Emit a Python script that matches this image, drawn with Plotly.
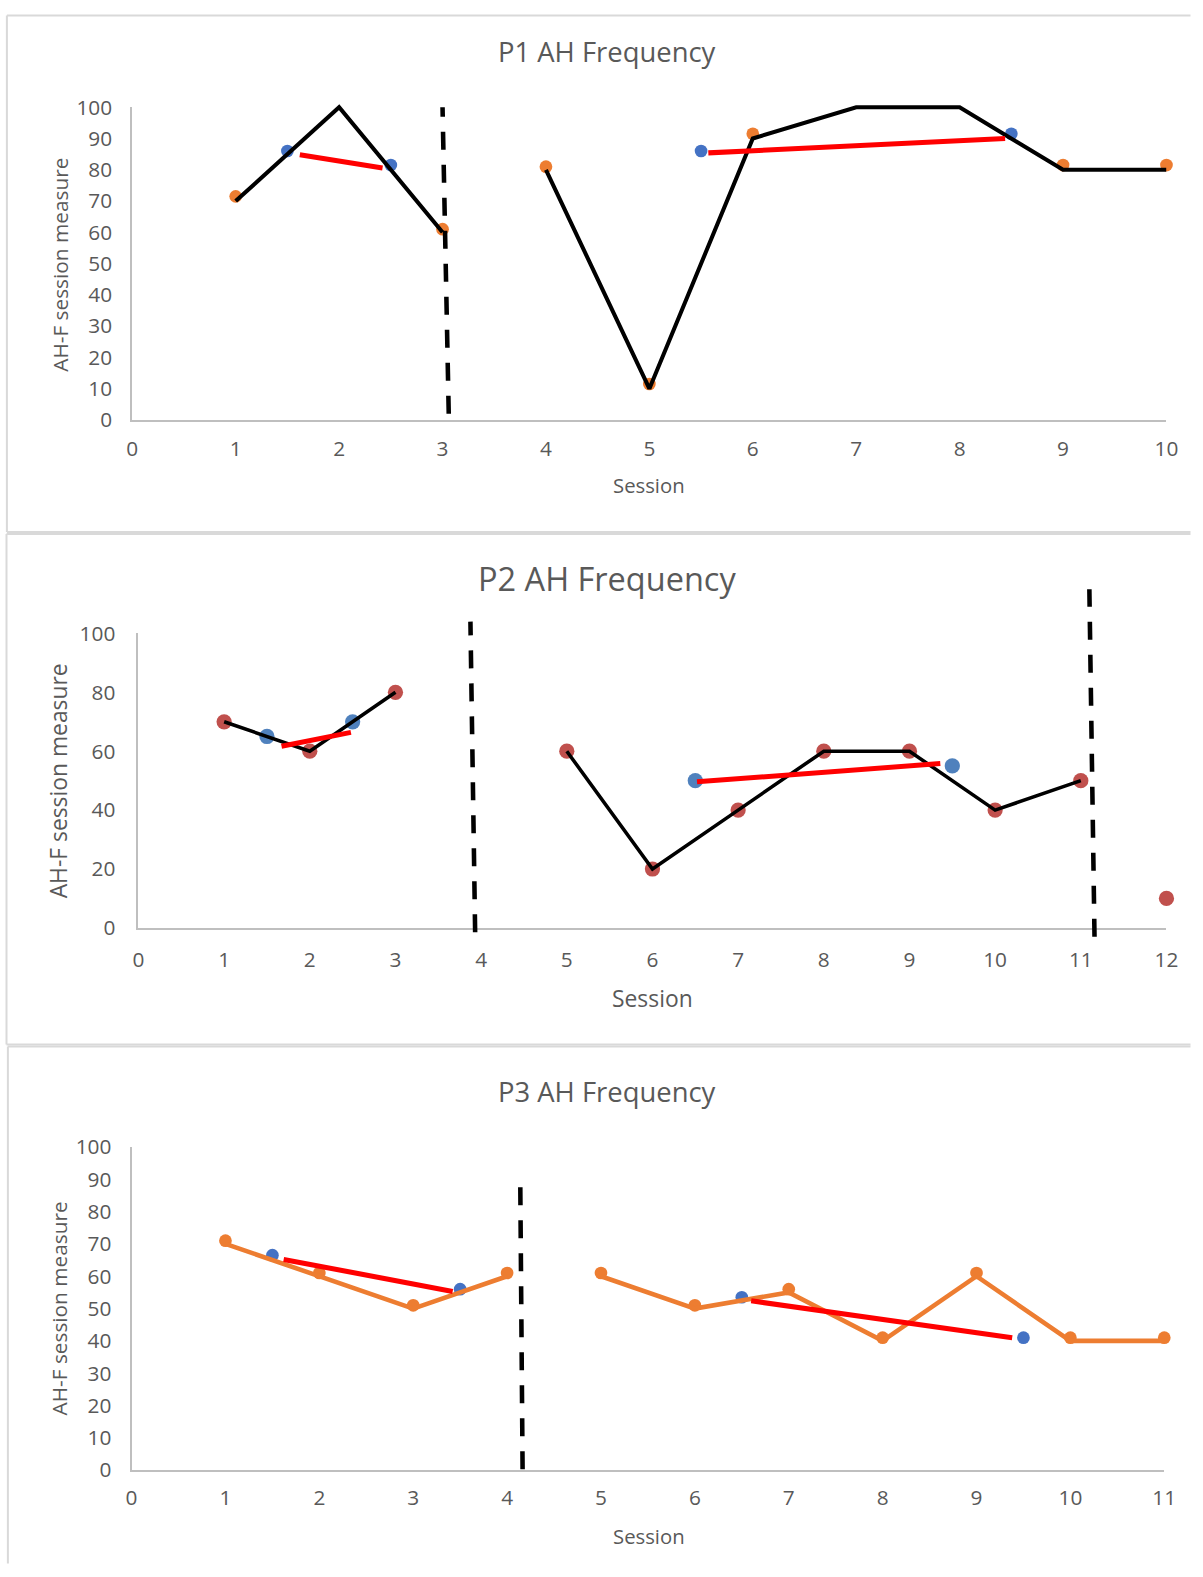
import plotly.graph_objects as go

# ---------------- data ----------------
# Panel 1 (P1)
p1_sessions = [1, 2, 3, 4, 5, 6, 7, 8, 9, 10]
p1_points = [71.5, 101.5, 61, 81, 11.5, 91.5, 101.5, 101.5, 81.5, 81.5]
p1_line_a_x = [1, 2, 3]
p1_line_a_y = [70, 100, 60]
p1_line_b_x = [4, 5, 6, 7, 8, 9, 10]
p1_line_b_y = [80, 10, 90, 100, 100, 80, 80]
p1_mid_x = [1.5, 2.5, 5.5, 8.5]
p1_mid_y = [86, 81.5, 86, 91.5]
p1_trend_a_x = [1.62, 2.42]
p1_trend_a_y = [84.8, 80.6]
p1_trend_b_x = [5.57, 8.44]
p1_trend_b_y = [85.4, 90]
p1_phase_x = [3.06, 3.0]
p1_phase_y = [2, 100]

# Panel 2 (P2)
p2_sessions = [1, 2, 3, 5, 6, 7, 8, 9, 10, 11, 12]
p2_points = [70, 60, 80, 60, 20, 40, 60, 60, 40, 50, 10]
p2_line_a_x = [1, 1.5, 2, 2.5, 3]
p2_line_a_y = [70, 65, 60, 70, 80]
p2_line_b_x = [5, 6, 7, 8, 9, 10, 11]
p2_line_b_y = [60, 20, 40, 60, 60, 40, 50]
p2_mid_x = [1.5, 2.5, 6.5, 9.5]
p2_mid_y = [65, 70, 50, 55]
p2_trend_a_x = [1.67, 2.48]
p2_trend_a_y = [61.7, 66.4]
p2_trend_b_x = [6.52, 9.36]
p2_trend_b_y = [49.6, 55.8]
p2_phase1_x = [3.93, 3.875]
p2_phase1_y = [-1.5, 104]
p2_phase2_x = [11.16, 11.10]
p2_phase2_y = [-3, 115]

# Panel 3 (P3)
p3_sessions = [1, 2, 3, 4, 5, 6, 7, 8, 9, 10, 11]
p3_points = [71, 61, 51, 61, 61, 51, 56, 41, 61, 41, 41]
p3_line_a_x = [1, 2, 3, 4]
p3_line_a_y = [70, 60, 50, 60]
p3_line_b_x = [5, 6, 7, 8, 9, 10, 11]
p3_line_b_y = [60, 50, 55, 40, 60, 40, 40]
p3_mid_x = [1.5, 3.5, 6.5, 9.5]
p3_mid_y = [66.5, 56, 53.5, 41]
p3_trend_a_x = [1.62, 3.42]
p3_trend_a_y = [65.2, 55.3]
p3_trend_b_x = [6.6, 9.38]
p3_trend_b_y = [52.4, 41]
p3_phase_x = [4.165, 4.14]
p3_phase_y = [0.3, 90]

titles = ["P1 AH Frequency", "P2 AH Frequency", "P3 AH Frequency"]
ytitles = ["AH-F session measure", "AH-F session measure", "AH-F session measure"]
xtitle = "Session"

# ---------------- layout helpers ----------------
W, H = 1203, 1577
# measured placement of the figure inside the photographed page
OX, OY = 5.1, 13.7
SX, SY = 0.986, 0.983
S = (SX + SY) / 2

def fx(v):  # target page px -> figure px
    return min(max((v - OX) / SX, 0.5), W - 0.5)
def fy(v):
    return min(max((v - OY) / SY, 0.5), H - 0.5)
def px_x(v):
    return fx(v) / W
def px_y(v):
    return 1 - fy(v) / H
def k(v):  # size compensation
    return v / S

ORANGE = "#ED7D31"
BLUE = "#4472C4"
BLUE2 = "#4F81BD"
BRICK = "#C0504D"
RED = "#FF0000"
TXT = "#595959"
AX = "#BFBFBF"
FONT = "Open Sans"

fig = go.Figure()

# panel geometry in page px: x of 0 / x of max, y of 0 / y of 100
panels = [
    dict(xl=131.5, xr=1166.7, yb=419.0, yt=106.0, xmax=10, dtick=10, xs=9, ys=14),
    dict(xl=137.7, xr=1166.7, yb=927.3, yt=632.6, xmax=12, dtick=20, xs=12, ys=17),
    dict(xl=130.8, xr=1164.5, yb=1470.0, yt=1146.5, xmax=11, dtick=10, xs=8, ys=14),
]
EXT_LO, EXT_HI = -10, 125

layout_axes = {}
for i, p in enumerate(panels):
    n = i + 1
    xd = [px_x(p["xl"]), px_x(p["xr"])]
    d0, d1 = px_y(p["yb"]), px_y(p["yt"])
    span = d1 - d0
    xname = "xaxis" if n == 1 else f"xaxis{n}"
    yname = "yaxis" if n == 1 else f"yaxis{n}"
    hname = f"yaxis{n + 3}"
    layout_axes[xname] = dict(
        domain=xd, range=[0, p["xmax"]], anchor=("y" if n == 1 else f"y{n}"),
        dtick=1, tick0=0, showgrid=False, zeroline=False,
        showline=True, linecolor=AX, linewidth=2,
        ticks="outside", ticklen=0, ticklabelstandoff=round(k(p["xs"])),
        tickfont=dict(family=FONT, size=k(20.5), color=TXT),
    )
    layout_axes[yname] = dict(
        domain=[d0, d1], range=[0, 100], anchor=("x" if n == 1 else f"x{n}"),
        dtick=p["dtick"], tick0=0, showgrid=False, zeroline=False,
        showline=True, linecolor=AX, linewidth=2,
        ticks="outside", ticklen=0, ticklabelstandoff=round(k(p["ys"])),
        tickfont=dict(family=FONT, size=k(20.5), color=TXT),
    )
    # hidden companion axis with the same scale but a taller domain, so lines
    # that reach above 100 or below 0 are not clipped
    layout_axes[hname] = dict(
        domain=[d0 + EXT_LO / 100 * span, d0 + EXT_HI / 100 * span],
        range=[EXT_LO, EXT_HI], anchor=("x" if n == 1 else f"x{n}"),
        visible=False, showgrid=False, zeroline=False,
    )

def xref(n):
    return "x" if n == 1 else f"x{n}"

def add_line(n, x, y, width, color, dash=None):
    fig.add_trace(go.Scatter(x=x, y=y, xaxis=xref(n), yaxis=f"y{n + 3}",
                             showlegend=False, hoverinfo="skip", mode="lines",
                             line=dict(color=color, width=k(width), dash=dash)))

def add_pts(n, x, y, color, size):
    fig.add_trace(go.Scatter(x=x, y=y, xaxis=xref(n), yaxis=("y" if n == 1 else f"y{n}"),
                             showlegend=False, cliponaxis=False, hoverinfo="skip",
                             mode="markers", marker=dict(color=color, size=k(size))))

DASH = "18px,15px"

# ---- Panel 1 ----
add_line(1, p1_line_a_x, p1_line_a_y, 4, "black")
add_line(1, p1_line_b_x, p1_line_b_y, 4, "black")
add_line(1, p1_trend_a_x, p1_trend_a_y, 5, RED)
add_line(1, p1_trend_b_x, p1_trend_b_y, 5, RED)
add_line(1, p1_phase_x, p1_phase_y, 4.5, "black", DASH)
add_pts(1, p1_sessions, p1_points, ORANGE, 12.5)
add_pts(1, p1_mid_x, p1_mid_y, BLUE, 12.5)

# ---- Panel 2 ----
add_line(2, p2_line_a_x, p2_line_a_y, 3.5, "black")
add_line(2, p2_line_b_x, p2_line_b_y, 3.5, "black")
add_line(2, p2_trend_a_x, p2_trend_a_y, 5, RED)
add_line(2, p2_trend_b_x, p2_trend_b_y, 5, RED)
add_line(2, p2_phase1_x, p2_phase1_y, 4.5, "black", DASH)
add_line(2, p2_phase2_x, p2_phase2_y, 4.5, "black", DASH)
add_pts(2, p2_sessions, p2_points, BRICK, 15)
add_pts(2, p2_mid_x, p2_mid_y, BLUE2, 15)

# ---- Panel 3 ----
add_line(3, p3_line_a_x, p3_line_a_y, 4.5, ORANGE)
add_line(3, p3_line_b_x, p3_line_b_y, 4.5, ORANGE)
add_pts(3, p3_sessions, p3_points, ORANGE, 12.5)
add_line(3, p3_trend_a_x, p3_trend_a_y, 5, RED)
add_line(3, p3_trend_b_x, p3_trend_b_y, 5, RED)
add_line(3, p3_phase_x, p3_phase_y, 4.5, "black", DASH)
add_pts(3, p3_mid_x, p3_mid_y, BLUE, 12.5)

# ---------------- text ----------------
ann = []
title_pos = [(606.5, 50.3, 27), (606.5, 578, 32), (606.5, 1091, 27)]
xt_pos = [(649, 484, 20), (652, 998, 22.5), (649, 1536, 20)]
yt_pos = [(58.3, 263.5, 20.5), (57.3, 780.5, 22.5), (58.3, 1308, 20.5)]
for i in range(3):
    tx, ty, ts = title_pos[i]
    ann.append(dict(text=titles[i], x=px_x(tx), y=px_y(ty), xref="paper", yref="paper",
                    showarrow=False, xanchor="center", yanchor="middle",
                    font=dict(family=FONT, size=k(ts), color=TXT)))
    sx, sy, ss = xt_pos[i]
    ann.append(dict(text=xtitle, x=px_x(sx), y=px_y(sy), xref="paper", yref="paper",
                    showarrow=False, xanchor="center", yanchor="middle",
                    font=dict(family=FONT, size=k(ss), color=TXT)))
    yx, yy, ys = yt_pos[i]
    ann.append(dict(text=ytitles[i], x=px_x(yx), y=px_y(yy), xref="paper", yref="paper",
                    showarrow=False, xanchor="center", yanchor="middle", textangle=-90,
                    font=dict(family=FONT, size=k(ys), color=TXT)))

# panel frames (page px): top, left and (where visible) bottom edges
frames = [(6, 6, 1203, 531, True), (5, 533, 1203, 1044, True), (7, 1046, 1203, 1577, False)]
shapes = []
def seg(x0, y0, x1, y1):
    shapes.append(dict(type="line", xref="paper", yref="paper",
                       x0=px_x(x0), x1=px_x(x1), y0=px_y(y0), y1=px_y(y1),
                       line=dict(color="#D9D9D9", width=2), layer="below"))
for (x0, y0, x1, y1, bottom) in frames:
    seg(x0, y0, x1, y0)
    seg(x0, y0, x0, y1)
    if bottom:
        seg(x0, y1, x1, y1)

fig.update_layout(
    width=W, height=H, margin=dict(l=0, r=0, t=0, b=0),
    paper_bgcolor="white", plot_bgcolor="rgba(0,0,0,0)",
    annotations=ann, shapes=shapes, showlegend=False,
    **layout_axes,
)

fig.write_html("out.html")
